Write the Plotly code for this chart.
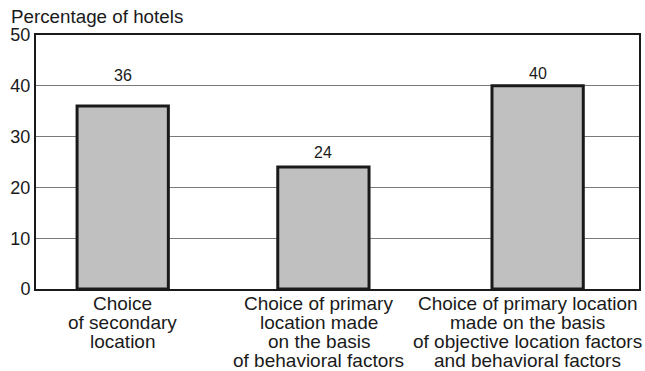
import plotly.graph_objects as go

categories = [
    "Choice<br>of secondary<br>location",
    "Choice of primary<br>location made<br>on the basis<br>of behavioral factors",
    "Choice of primary location<br>made on the basis<br>of objective location factors<br>and behavioral factors",
]
values = [36, 24, 40]
value_labels = ["36", "24", "40"]
y_ticks = [0, 10, 20, 30, 40, 50]
y_title = "Percentage of hotels"

FONT = "Liberation Sans, Arial, sans-serif"

# layout tweaks (style only)
BAR_W = 0.44
PPU = 208.15                      # px per category unit
bar_nudge_px = [0, -6.8, 0]       # small horizontal nudges of bars
label_nudge_px = [0, -4.5, -10]   # nudges of category labels relative to bar
value_shift = [31, 15, 12]

fig = go.Figure()
fig.add_trace(go.Bar(
    x=list(range(len(categories))),
    y=values,
    width=BAR_W,
    offset=[-BAR_W / 2 + n / PPU for n in bar_nudge_px],
    marker=dict(color="#c0c0c0", line=dict(color="#1a1a1a", width=3)),
    hoverinfo="skip",
))

for i, (v, t) in enumerate(zip(values, value_labels)):
    fig.add_annotation(x=i, y=v, text=t, showarrow=False, yanchor="middle",
                       xshift=bar_nudge_px[i], yshift=value_shift[i],
                       font=dict(family=FONT, size=16, color="#1a1a1a"))

for i, cat in enumerate(categories):
    for j, line in enumerate(cat.split("<br>")):
        fig.add_annotation(x=i, y=0, text=line, showarrow=False, yanchor="middle",
                           xshift=bar_nudge_px[i] + label_nudge_px[i],
                           yshift=-(14 + 19.2 * j),
                           font=dict(family=FONT, size=19, color="#1a1a1a"))

fig.add_annotation(xref="paper", yref="paper", x=-27 / 605, y=1 + 18 / 254, text=y_title,
                   xanchor="left", yanchor="middle", showarrow=False,
                   font=dict(family=FONT, size=18.8, color="#1a1a1a"))

r0 = -87 / PPU
fig.update_layout(
    width=645, height=371,
    margin=dict(l=36, r=4, t=35, b=82),
    paper_bgcolor="white", plot_bgcolor="white",
    showlegend=False,
    font=dict(family=FONT, size=18, color="#1a1a1a"),
    xaxis=dict(range=[r0, r0 + 605 / PPU], showticklabels=False, showgrid=False,
               zeroline=False, showline=True, linecolor="#1a1a1a", linewidth=2, mirror=True,
               ticks=""),
    yaxis=dict(range=[0, 50], tickvals=y_ticks, showgrid=True, gridcolor="#7a7a7a", gridwidth=1.2,
               zeroline=False, showline=True, linecolor="#1a1a1a", linewidth=2, mirror=True,
               ticks="", tickfont=dict(family=FONT, size=18, color="#1a1a1a")),
)

fig.write_html("out.html")
